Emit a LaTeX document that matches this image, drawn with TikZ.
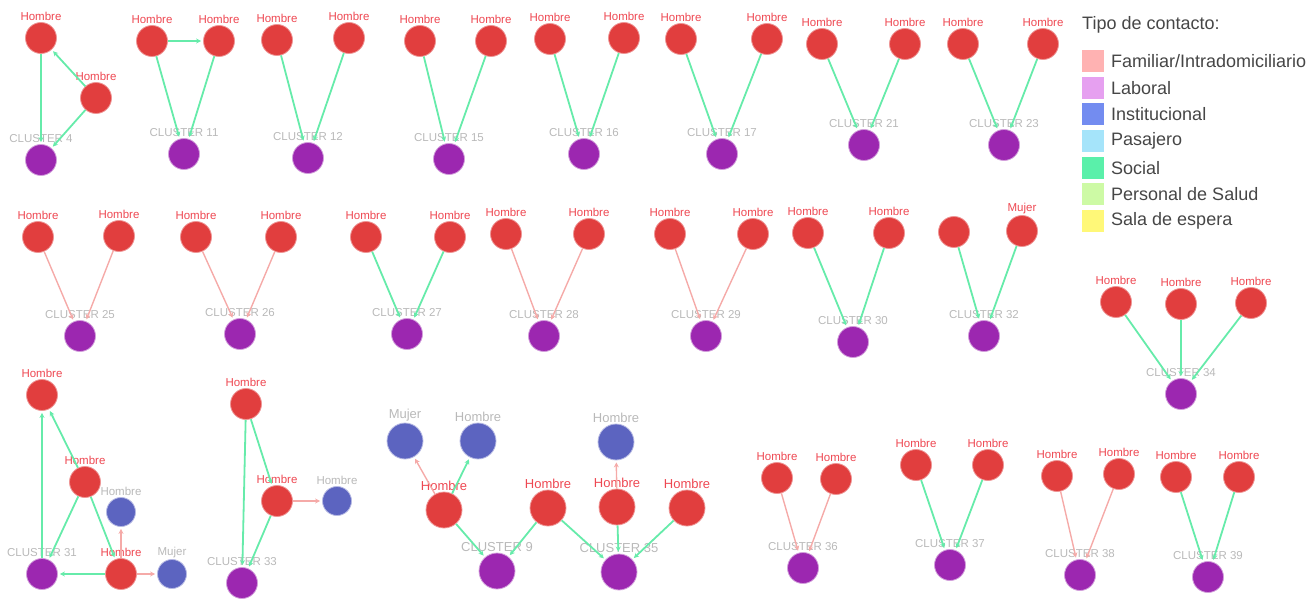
\documentclass[tikz,border=0pt]{standalone}
\usepackage{fontspec}
\setmainfont{Liberation Sans}
\usetikzlibrary{arrows.meta}
\definecolor{nodered}{RGB}{225,62,62}
\definecolor{nodepurple}{RGB}{156,39,176}
\definecolor{nodeblue}{RGB}{92,100,192}
\definecolor{edgegreen}{RGB}{102,235,170}
\definecolor{edgesalmon}{RGB}{245,170,168}
\definecolor{labred}{RGB}{238,72,82}
\definecolor{labgray}{RGB}{185,185,185}
\definecolor{legtext}{RGB}{70,70,70}
\definecolor{famcol}{RGB}{255,178,178}
\definecolor{labcol}{RGB}{230,160,240}
\definecolor{instcol}{RGB}{115,140,240}
\definecolor{pascol}{RGB}{165,228,250}
\definecolor{soccol}{RGB}{90,240,170}
\definecolor{salcol}{RGB}{205,250,165}
\definecolor{espcol}{RGB}{255,248,120}
\tikzset{
  hom/.style={circle,fill=nodered,draw=nodered!55!white,line width=0.8pt,minimum size=31pt,inner sep=0pt},
  clu/.style={hom,fill=nodepurple,draw=nodepurple!45!white},
  inst/.style={hom,fill=nodeblue,draw=nodeblue!45!white},
  big/.style={minimum size=36pt},
  hlab/.style={text=labred,inner sep=0pt,font=\fontsize{11.5}{12}\selectfont},
  clab/.style={hlab,text=labgray},
  hlabbig/.style={hlab,font=\fontsize{13}{14}\selectfont},
  clabbig/.style={clab,font=\fontsize{13}{14}\selectfont},
  soc/.style={draw=edgegreen,line width=1.8pt,shorten >=2pt,-{Stealth[length=5pt,width=5pt]}},
  fam/.style={draw=edgesalmon,line width=1.4pt,shorten >=2pt,-{Stealth[length=5pt,width=5pt]}},
  legend/.style={anchor=west,inner sep=0pt,text=legtext,font=\fontsize{18}{20}\selectfont}
}
% two men and one cluster, #5 = cluster number
\def\vgroup[#1](#2)(#3)(#4)#5{%
  \node[hom,label={[hlab]above:Hombre}] (l#5) at (#2) {};
  \node[hom,label={[hlab]above:Hombre}] (r#5) at (#3) {};
  \node[clu,label={[clab]above:CLUSTER #5}] (c#5) at (#4) {};
  \draw[#1] (l#5) -- (c#5);
  \draw[#1] (r#5) -- (c#5);}

\begin{document}
\begin{tikzpicture}[x=1pt,y=-1pt,label distance=1pt]
	%%%%% START %%%%%
	\useasboundingbox (0,0) rectangle (1315,599);
	
	\node[hom,label={[hlab]above:Hombre}] (t4) at (41,38) {};
	\node[hom,label={[hlab]above:Hombre}] (m4) at (96,98) {};
	\node[clu,label={[clab]above:CLUSTER 4}] (c4) at (41,160) {};
	\draw[soc] (m4) -- (t4);
	\draw[soc] (m4) -- (c4);
	\draw[soc] (t4) -- (c4);
	
	\vgroup[soc](152,41)(219,41)(184,154){11}
	\draw[soc] (l11) -- (r11);
	\vgroup[soc](277,40)(349,38)(308,158){12}
	\vgroup[soc](420,41)(491,41)(449,159){15}
	\vgroup[soc](550,39)(624,38)(584,154){16}
	\vgroup[soc](681,39)(767,39)(722,154){17}
	\vgroup[soc](822,44)(905,44)(864,145){21}
	\vgroup[soc](963,44)(1043,44)(1004,145){23}
	
	\vgroup[fam](38,237)(119,236)(80,336){25}
	\vgroup[fam](196,237)(281,237)(240,334){26}
	\vgroup[soc](366,237)(450,237)(407,334){27}
	\vgroup[fam](506,234)(589,234)(544,336){28}
	\vgroup[fam](670,234)(753,234)(706,336){29}
	\vgroup[soc](808,233)(889,233)(853,342){30}
	
	\node[hom] (l32) at (954,232) {};
	\node[hom,label={[hlab]above:Mujer}] (r32) at (1022,231) {};
	\node[clu,label={[clab]above:CLUSTER 32}] (c32) at (984,336) {};
	\draw[soc] (l32) -- (c32);
	\draw[soc] (r32) -- (c32);
	
	\node[hom,label={[hlab]above:Hombre}] (a34) at (1116,302) {};
	\node[hom,label={[hlab]above:Hombre}] (b34) at (1181,304) {};
	\node[hom,label={[hlab]above:Hombre}] (d34) at (1251,303) {};
	\node[clu,label={[clab]above:CLUSTER 34}] (c34) at (1181,394) {};
	\draw[soc] (a34) -- (c34);
	\draw[soc] (b34) -- (c34);
	\draw[soc] (d34) -- (c34);
	
	\node[hom,label={[hlab]above:Hombre}] (t31) at (42,395) {};
	\node[hom,label={[hlab]above:Hombre}] (m31) at (85,482) {};
	\node[hom,label={[hlab]above:Hombre}] (b31) at (121,574) {};
	\node[inst,minimum size=29pt,label={[clab]above:Hombre}] (u31) at (121,512) {};
	\node[inst,minimum size=29pt,label={[clab]above:Mujer}] (w31) at (172,574) {};
	\node[clu,label={[clab]above:CLUSTER 31}] (c31) at (42,574) {};
	\draw[soc] (c31) -- (t31);
	\draw[soc] (m31) -- (t31);
	\draw[soc] (m31) -- (c31);
	\draw[soc] (m31) -- (b31);
	\draw[soc] (b31) -- (c31);
	\draw[fam] (b31) -- (u31);
	\draw[fam] (b31) -- (w31);
	
	\node[hom,label={[hlab]above:Hombre}] (t33) at (246,404) {};
	\node[hom,label={[hlab]above:Hombre}] (m33) at (277,501) {};
	\node[inst,minimum size=29pt,label={[clab]above:Hombre}] (u33) at (337,501) {};
	\node[clu,label={[clab]above:CLUSTER 33}] (c33) at (242,583) {};
	\draw[soc] (t33) -- (c33);
	\draw[soc] (t33) -- (m33);
	\draw[soc] (m33) -- (c33);
	\draw[fam] (m33) -- (u33);
	
	\node[inst,big,label={[clabbig]above:Mujer}] (w9) at (405,441) {};
	\node[inst,big,label={[clabbig]above:Hombre}] (u9) at (478,441) {};
	\node[inst,big,label={[clabbig]above:Hombre}] (u35) at (616,442) {};
	\node[hom,big,label={[hlabbig]above:Hombre}] (a9) at (444,510) {};
	\node[hom,big,label={[hlabbig]above:Hombre}] (b9) at (548,508) {};
	\node[hom,big,label={[hlabbig]above:Hombre}] (a35) at (617,507) {};
	\node[hom,big,label={[hlabbig]above:Hombre}] (b35) at (687,508) {};
	\node[clu,big,label={[clabbig]above:CLUSTER 9}] (c9) at (497,571) {};
	\node[clu,big,label={[clabbig]above:CLUSTER 35}] (c35) at (619,572) {};
	\draw[fam] (a9) -- (w9);
	\draw[soc] (a9) -- (u9);
	\draw[soc] (a9) -- (c9);
	\draw[soc] (b9) -- (c9);
	\draw[soc] (b9) -- (c35);
	\draw[soc] (a35) -- (c35);
	\draw[soc] (b35) -- (c35);
	\draw[fam] (a35) -- (u35);
	
	\vgroup[fam](777,478)(836,479)(803,568){36}
	\vgroup[soc](916,465)(988,465)(950,565){37}
	\vgroup[fam](1057,476)(1119,474)(1080,575){38}
	\vgroup[soc](1176,477)(1239,477)(1208,577){39}
	
	\node[legend] (tipo) at (1082,25) {Tipo de contacto:};
	\fill[famcol] (1082,50) rectangle (1104,72);
	\node[legend] (kfam) at (1111,61) {Familiar/Intradomiciliario};
	\fill[labcol] (1082,77) rectangle (1104,99);
	\node[legend] (klab) at (1111,88) {Laboral};
	\fill[instcol] (1082,103) rectangle (1104,125);
	\node[legend] (kinst) at (1111,114) {Institucional};
	\fill[pascol] (1082,130) rectangle (1104,152);
	\node[legend] (kpas) at (1111,141) {Pasajero};
	\fill[soccol] (1082,157) rectangle (1104,179);
	\node[legend] (ksoc) at (1111,168) {Social};
	\fill[salcol] (1082,183) rectangle (1104,205);
	\node[legend] (ksal) at (1111,194) {Personal de Salud};
	\fill[espcol] (1082,210) rectangle (1104,232);
	\node[legend] (kesp) at (1111,221) {Sala de espera};
	%%%%% END %%%%%
\end{tikzpicture}
\end{document}
